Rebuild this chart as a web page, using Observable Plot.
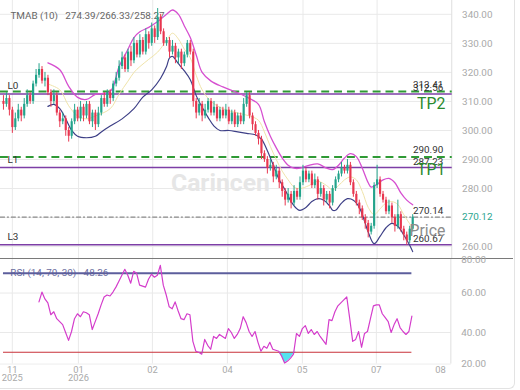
<!DOCTYPE html>
<html><head><meta charset="utf-8">
<script src="https://cdn.jsdelivr.net/npm/d3@7"></script>
<script src="https://cdn.jsdelivr.net/npm/@observablehq/plot@0.6"></script>
<style>
body{margin:0;background:#fff;font-family:Roboto,"Noto Sans",sans-serif;}
#wrap{position:relative;width:514px;height:388px;border-right:1px solid #e3e3e3;border-bottom:1px solid #e3e3e3;border-bottom-right-radius:6px;overflow:hidden;}
#rsi{border-top:1px solid #7a7a7a;width:513px;}
svg{display:block;}
</style></head>
<body><div id="wrap"><div id="main"></div><div id="rsi"></div></div>
<script>
// ---- candle data (index = trading day) ----
const firstOpen = 310;
const closes = [309,311,307,301,304,307,305,309,312,310, 316,319,321,317,318,313,310,312,306,303,
 304,300,298,303,307,304,308,305,309,303, 306,302,306,311,309,313,311,316,318,322,
 325,321,327,324,330,326,331,327,333,330, 335,332,339,334,330,331,327,329,325,327,
 323,326,330,327,310,306,309,305,307,310, 306,308,304,307,305,307,303,306,302,305,
 303,309,312,305,302,299,297,292,290,287, 288,284,286,282,279,276,278,275,279,277,
 282,286,283,285,281,283,278,280,276,278, 275,280,283,285,287,286,288,282,278,275,
 273,270,268,265,267,281,283,278,276,272, 274,270,267,271,266,264,262,266,270.12];
const highs = [312,313,312,308,306,309,308,311,314,313, 317,321,323,322,320,319,314,314,313,307,
 306,305,301,304,309,308,310,309,310,310, 307,307,308,312,313,314,314,317,320,324,
 327,326,328,329,332,331,333,332,335,334, 337,336,342,340,335,332,332,331,330,328,
 328,327,331,331,328,311,311,310,309,311, 311,310,309,308,308,309,308,307,307,306,
 306,311,313,313,306,303,300,298,293,291, 290,289,288,287,283,280,280,279,281,280,
 284,288,287,286,286,285,284,282,281,279, 279,281,284,286,289,288,290,289,283,279,
 276,274,271,269,268,282,288,284,279,277, 276,275,271,276,272,267,265,267,271];
const lows = [307,308,305,299,300,303,303,304,308,309, 309,315,318,316,315,312,308,309,305,301,
 302,298,296,297,302,303,303,303,304,302, 301,300,301,305,308,308,309,310,315,317,
 321,320,320,322,323,325,325,326,326,328, 329,330,331,333,329,329,325,326,323,323,
 321,322,325,326,308,304,305,303,304,306, 305,305,303,303,304,304,302,302,301,301,
 302,302,308,304,300,298,295,290,289,285, 286,282,283,280,277,274,275,273,274,276,
 276,281,282,282,280,280,276,277,274,275, 273,274,279,282,284,285,285,281,277,274,
 271,269,266,263,264,266,280,277,275,271, 271,268,265,266,265,262,260.5,261,265];

// ---- TMA bands (index, value) ----
const upperIdx = [15,19,22,25,28,31,36,39,42,44,46,49,52,55,57,59,61,63,65,67,70,74,79,83,86,88,90,92,94,96,98,100,103,106,109,111,113,115,117,119,121,123,124,126,128,130,132,134,136,138];
const upperVal = [323.3,320.9,315.2,311.4,310.7,312.4,313.4,322,328,332,334,335.5,337.5,340,341.5,340,336,332,326,320,317,315,313,311,309,303,298,294,290.5,288,287,287,288,288.5,287,286.5,288,290.5,292,291,287,282,280.5,281.5,283,283.5,282,278.5,276,274.39];
const midIdx = [15,19,22,25,28,31,36,39,42,44,46,49,52,55,57,59,61,63,65,67,70,74,79,83,86,88,90,92,94,96,98,100,103,106,109,111,113,115,117,119,121,123,125,127,129,131,133,135,138];
const midVal = [316,314,308.5,305,304,305,307.5,312.5,317,320,322,324.5,327,331,333.5,331.5,328,325,319,314,310,307.5,306,305,303.5,299.5,294.5,290,286,283,280.5,280,281,282.5,281,279.5,281,283,284,283,279,273.5,271,273,275,275.5,274.5,271,266.33];
const lowerIdx = [15,17,19,21,23,25,28,31,33,36,40,44,47,50,53,55,56,57,59,61,63,65,67,69,71,73,76,79,82,85,87,89,91,93,95,97,99,100,102,104,106,108,110,111,112,114,116,118,120,122,123,125,127,129,131,133,135,137,138];
const lowerVal = [308.3,309,307.5,304,300,298,297.5,298,299.5,301.5,304,307.5,311.5,314,318,322,325,325.5,323,320.5,317.5,312,308,304.5,301.5,300,300,299.5,299,298.5,297,293,288,283,279.5,275.5,273,272.5,273.5,275.5,276.5,276,274,272.5,272.5,275,276.5,276,273.5,268,265,261,263.5,266.5,268,267,264,260.5,258.27];

// ---- levels ----
const greenLevels = [313.41, 290.90];
const tpNames = ["TP2", "TP1"];
const purpleLevels = [312.56, 287.23, 260.67];
const lNames = ["L0", "L1", "L3"];
const grayLevels = [270.14];

// ---- RSI ----
const rsiStart = 12;
const rsiVals = [55.5,60.5,57,55,49,50.5,47,45.5,44,40, 36,40.5,47,49.5,48,50.5,50,49,41.5,45.5,
 49.5,54,58,59,58.5,60.5,63,66,69,72, 69,65,71,70,64,63.5,63,67,69.5,68,
 69,74,64,59,53,52,55.5,51,47,46.5, 49.5,49,35.5,30.5,30,29,36.5,33.5,31.5,38,
 37,39,38,37,42,40,37,39,42,48, 45,40.5,38,40.5,35,30.5,33,32,35,31.5,
 31,30.5,28,24.5,25.5,27,29,39.5,38,42, 43.5,39.5,41.5,39,40.5,38,36,34,46.5,46,
 50.5,53.5,55,56.5,58,47,35.5,36.5,40.5,32.5, 39.5,40.5,47,53.5,54,54,49.5,47.5,45.5,40,
 44,47,42.5,40.5,39,40.5,48.26];
const rsiLevels = [70, 30];

// ---- axes ----
const priceTicks = [340,330,320,310,300,290,280,260];
const rsiTicks = [80,60,40,20];
const tickIdx = [3,25.33,50.33,75.67,101,126,147.67];
const tickLabels = ["11\n2025","01\n2026","02","04","05","07","08"];
const gridIdx = tickIdx.slice(0,6);
const xDomain = [-1,151.33];

const N = closes.length;
const candles = closes.map((c,i)=>({i, o: i===0?firstOpen:closes[i-1], c, h: highs[i], l: lows[i]}));
const GREEN="#22a38b", RED="#e8364f";
const col = d => d.c >= d.o ? GREEN : RED;
const pts = (ix, vs) => ix.map((i,k)=>({i, v: vs[k]}));
const lastPrice = closes[N-1];
const title = `TMAB (10)\u00a0\u00a0\u00a0${upperVal[upperVal.length-1].toFixed(2)}/${midVal[midVal.length-1].toFixed(2)}/${lowerVal[lowerVal.length-1].toFixed(2)}`;
const font = "Roboto, 'Noto Sans', sans-serif";

const main = Plot.plot({
  width:520, height:261, marginLeft:0, marginRight:63, marginTop:0, marginBottom:0,
  style:{fontFamily:font, fontSize:"10px", background:"transparent", overflow:"visible"},
  x:{domain:xDomain, axis:null},
  y:{domain:[255.91,344.77], axis:null},
  marks:[
    Plot.gridY(priceTicks.concat([270]), {stroke:"#e9e9e9", strokeOpacity:1}),
    Plot.gridX(gridIdx, {stroke:"#e9e9e9", strokeOpacity:1}),
    Plot.ruleX([xDomain[1]], {stroke:"#dedede", dx:-0.5}),
    Plot.axisY(priceTicks, {anchor:"right", label:null, tickSize:0, tickPadding:10, tickFormat:d=>d.toFixed(2), color:"#a9a9a9", fontSize:10}),
    Plot.text([lastPrice], {y:d=>d, frameAnchor:"right", dx:10, textAnchor:"start", text:d=>d.toFixed(2), fill:"#2aa58f", fontSize:10}),
    Plot.text(["Carincen"], {frameAnchor:"middle", dx:-6, dy:54, fontSize:25, fontWeight:"bold", fill:"#e6e6e6"}),
    Plot.text([title], {frameAnchor:"top-left", dx:10, dy:12, textAnchor:"start", fill:"#666", fontSize:10}),
    Plot.ruleY(greenLevels, {stroke:"#2f9a35", strokeWidth:2, strokeDasharray:"8,5"}),
    Plot.ruleY(purpleLevels, {stroke:"#7d3fa6", strokeWidth:1.5}),
    Plot.ruleY(grayLevels, {stroke:"#8a8a8a", strokeWidth:1.2, strokeDasharray:"5,2,2,2"}),
    Plot.line(pts(midIdx, midVal), {x:"i", y:"v", stroke:"#efe3a8", strokeWidth:1, curve:"catmull-rom"}),
    Plot.line(pts(upperIdx, upperVal), {x:"i", y:"v", stroke:"#d64fd0", strokeWidth:1.3, curve:"catmull-rom"}),
    Plot.line(pts(lowerIdx, lowerVal), {x:"i", y:"v", stroke:"#3d3f86", strokeWidth:1.2, curve:"catmull-rom"}),
    Plot.ruleX(candles, {x:"i", y1:"l", y2:"h", stroke:col, strokeWidth:1}),
    Plot.ruleX(candles, {x:"i", y1:"o", y2:"c", stroke:col, strokeWidth:2.2}),
    Plot.text(greenLevels, {y:d=>d, frameAnchor:"right", dx:-9, dy:-7, textAnchor:"end", text:d=>d.toFixed(2), fill:"#333", fontSize:10}),
    Plot.text(purpleLevels, {y:d=>d, frameAnchor:"right", dx:-9, dy:-6, textAnchor:"end", text:d=>d.toFixed(2), fill:"#333", fontSize:10}),
    Plot.text(grayLevels, {y:d=>d, frameAnchor:"right", dx:-9, dy:-6, textAnchor:"end", text:d=>d.toFixed(2), fill:"#333", fontSize:10}),
    Plot.text(greenLevels, {y:d=>d, frameAnchor:"right", dx:-7, dy:13, textAnchor:"end", text:(d,i)=>tpNames[i], fill:"#2a8a2e", fontSize:16}),
    Plot.text(grayLevels, {y:d=>d, frameAnchor:"right", dx:-7, dy:14, textAnchor:"end", text:()=>"Price", fill:"#8c8c8c", fontSize:16}),
    Plot.text(purpleLevels, {y:d=>d, frameAnchor:"left", dx:7, dy:-8, textAnchor:"start", text:(d,i)=>lNames[i], fill:"#333", fontSize:10})
  ]
});
document.getElementById("main").appendChild(main);

const rsiData = rsiVals.map((v,k)=>({i: rsiStart+k, v}));
const labelMap = new Map(tickIdx.map((t,k)=>[t, tickLabels[k]]));
const rsiTitle = `RSI (14, 70, 30)\u00a0\u00a0\u00a0${rsiVals[rsiVals.length-1].toFixed(2)}`;
const rsi = Plot.plot({
  width:520, height:126, marginLeft:0, marginRight:63, marginTop:0, marginBottom:20,
  style:{fontFamily:font, fontSize:"10px", background:"transparent", overflow:"visible"},
  x:{domain:xDomain, axis:null},
  y:{domain:[24,77], clamp:true, axis:null},
  marks:[
    Plot.gridY([60,40], {stroke:"#e9e9e9", strokeOpacity:1}),
    Plot.gridX(gridIdx, {stroke:"#e9e9e9", strokeOpacity:1}),
    Plot.ruleX([xDomain[1]], {stroke:"#dedede", dx:-0.5}),
    Plot.ruleY([24], {stroke:"#ededed"}),
    Plot.axisY(rsiTicks, {anchor:"right", label:null, tickSize:0, tickPadding:10, tickFormat:d=>d.toFixed(2), color:"#a9a9a9", fontSize:10}),
    Plot.axisX(tickIdx, {anchor:"bottom", label:null, tickSize:0, tickPadding:3, tickFormat:d=>labelMap.get(d), color:"#a9a9a9", fontSize:9.5, lineHeight:0.9}),
    Plot.areaY(rsiData, {x:"i", y1:()=>30, y2:d=>Math.min(d.v,30), fill:"#55e3ee"}),
    Plot.text([rsiLevels[0]], {y:d=>d, frameAnchor:"left", dx:10, textAnchor:"start", text:()=>rsiTitle, fill:"#6b6da0", fontSize:10}),
    Plot.ruleY([rsiLevels[0]], {x1:()=>0, x2:()=>N-1, stroke:"#5c5e9c", strokeWidth:2}),
    Plot.ruleY([rsiLevels[1]], {x1:()=>0, x2:()=>N-1, stroke:"#c8323a", strokeWidth:1.2}),
    Plot.line(rsiData, {x:"i", y:"v", stroke:"#d43ccb", strokeWidth:1.2})
  ]
});
document.getElementById("rsi").appendChild(rsi);
</script></body></html>
